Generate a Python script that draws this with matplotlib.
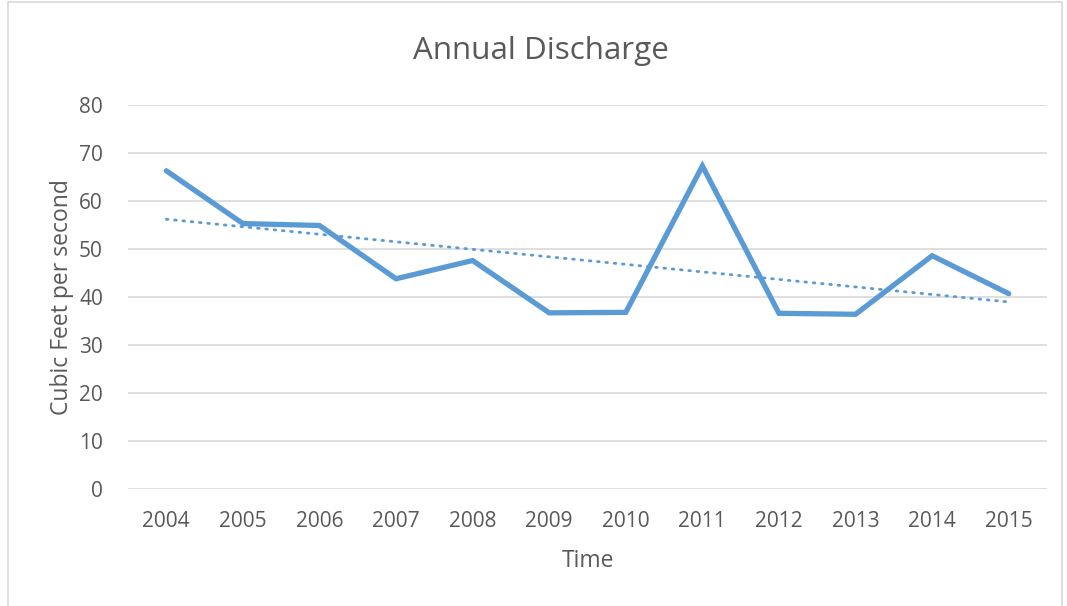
import matplotlib.pyplot as plt
import numpy as np
from matplotlib.patches import Rectangle

# Annual mean discharge, cubic feet per second
years = ['2004', '2005', '2006', '2007', '2008', '2009',
         '2010', '2011', '2012', '2013', '2014', '2015']
discharge = [66.3, 55.3, 54.9, 43.8, 47.6, 36.7,
             36.8, 67.3, 36.6, 36.4, 48.6, 40.7]
y_ticks = [0, 10, 20, 30, 40, 50, 60, 70, 80]

blue = '#5B9BD5'
text_grey = '#595959'
grid_grey = '#D9D9D9'

plt.rcParams['font.family'] = ['Open Sans', 'DejaVu Sans']

fig = plt.figure(figsize=(10.67, 6.06), dpi=100)
fig.patches.append(Rectangle((8 / 1067, -0.05), 1054 / 1067, 1.047,
                             transform=fig.transFigure, fill=False,
                             edgecolor=grid_grey, linewidth=1.2))

ax = fig.add_axes([128 / 1067, 117 / 606, 919 / 1067, 384 / 606])

x = np.arange(len(years))
ax.plot(x, discharge, color=blue, linewidth=3.8, solid_joinstyle='miter',
        solid_capstyle='round', zorder=3)

# linear trendline
slope, intercept = np.polyfit(x, discharge, 1)
ax.plot(x, slope * x + intercept, color=blue, linewidth=2.0,
        linestyle=(0, (0.6, 2.4)), dash_capstyle='round', zorder=4)

ax.set_xlim(-0.5, len(years) - 0.5)
ax.set_ylim(0, 80)
ax.set_xticks(x)
ax.set_xticklabels(years)
ax.set_yticks(y_ticks)
ax.tick_params(axis='both', length=0, labelsize=15, labelcolor=text_grey)
ax.tick_params(axis='x', pad=16)
ax.tick_params(axis='y', pad=18)
ax.grid(axis='y', color=grid_grey, linewidth=1.2)
ax.set_axisbelow(True)
for s in ax.spines.values():
    s.set_visible(False)

fig.text(541 / 1067, 1 - 51 / 606, 'Annual Discharge', fontsize=22.6,
         color=text_grey, ha='center', va='center')
ax.set_xlabel('Time', fontsize=16.5, color=text_grey, labelpad=12)
ax.set_ylabel('Cubic Feet per second', fontsize=16.5, color=text_grey, labelpad=4)

fig.savefig('out.png', dpi=100)
